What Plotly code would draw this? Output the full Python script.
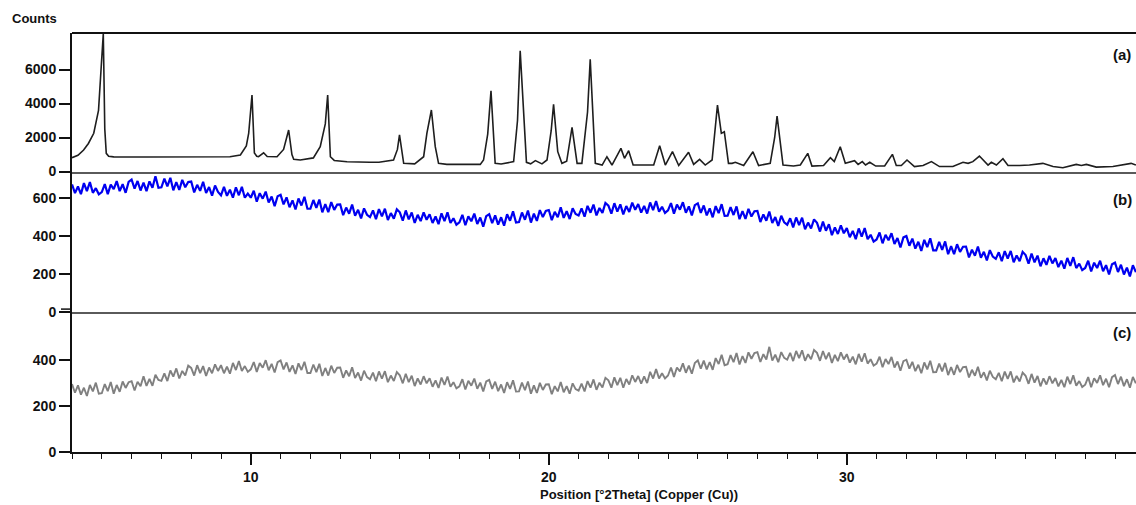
import numpy as np
import plotly.graph_objects as go
from plotly.subplots import make_subplots

# ---------------- data ----------------
# (a) crystalline pattern: (2theta, counts)
two_theta_a = [4.00, 4.20, 4.39, 4.55, 4.73, 4.89, 4.98, 5.05, 5.10, 5.15, 5.23, 5.40, 6.5, 7.5, 8.5, 9.3,
               9.65, 9.85, 9.93, 10.04, 10.12, 10.20, 10.26, 10.43, 10.55, 10.88, 11.10, 11.27, 11.38, 11.44,
               11.66, 12.1, 12.33, 12.50, 12.58, 12.67, 12.8, 13.23, 14.0, 14.18, 14.3, 14.79, 14.92, 14.99,
               15.13, 15.5, 15.8, 15.91, 16.06, 16.19, 16.3, 16.58, 17.7, 17.81, 17.95, 18.06, 18.2, 18.4,
               18.82, 18.95, 19.04, 19.25, 19.39, 19.55, 19.77, 19.94, 20.08, 20.16, 20.30, 20.44, 20.6,
               20.78, 20.95, 21.11, 21.30, 21.39, 21.56, 21.79, 21.95, 22.12, 22.42, 22.54, 22.68, 22.83,
               23.52, 23.72, 23.91, 24.15, 24.36, 24.69, 24.86, 25.06, 25.25, 25.48, 25.66, 25.79, 25.89,
               26.03, 26.15, 26.26, 26.54, 26.85, 27.04, 27.43, 27.58, 27.66, 27.86, 28.21, 28.44, 28.69,
               28.83, 29.22, 29.45, 29.58, 29.78, 29.95, 30.26, 30.38, 30.52, 30.63, 30.77, 30.97, 31.27,
               31.53, 31.66, 31.83, 32.02, 32.27, 32.56, 32.84, 33.11, 33.56, 33.90, 34.07, 34.23, 34.45,
               34.74, 34.85, 35.02, 35.24, 35.41, 35.80, 36.13, 36.58, 36.92, 37.25, 37.70, 37.87, 38.04,
               38.37, 38.93, 39.54, 39.70]
counts_a = [810, 950, 1260, 1650, 2250, 3600, 6150, 8100, 2500, 1070, 900, 860, 850, 860, 850, 870,
            970, 1500, 2260, 4500, 1090, 900, 870, 1100, 880, 870, 1300, 2440, 1000, 717,
            676, 800, 1460, 2800, 4500, 870, 650, 576, 540, 560, 540, 676, 1300, 2150,
            480, 450, 870, 2260, 3620, 1460, 480, 420, 420, 676, 2200, 4750, 480, 440,
            580, 3000, 7100, 540, 450, 640, 450, 676, 2400, 3950, 1165, 480, 600,
            2600, 480, 480, 3500, 6600, 480, 380, 870, 380, 1360, 775, 1225, 380,
            380, 1520, 380, 1165, 350, 1130, 420, 717, 380, 676, 3910, 2245, 2340,
            480, 480, 540, 350, 1165, 350, 480, 2000, 3260, 380, 320, 380, 1070,
            320, 350, 810, 580, 1460, 480, 640, 420, 580, 380, 540, 320, 320,
            1010, 350, 350, 676, 290, 350, 580, 290, 290, 540, 480, 580, 910,
            380, 540, 380, 750, 350, 350, 380, 480, 290, 225, 420, 350, 420,
            260, 290, 480, 380]

# (b) and (c) scans: step scan 4.0 .. 39.7 deg, 0.1 deg step
scan_start = 4.0
scan_step = 0.1
counts_b = [
    670, 624, 659, 619, 677, 635, 682, 626, 650, 618,
    630, 672, 619, 669, 645, 687, 635, 671, 626, 683,
    695, 648, 688, 638, 679, 635, 686, 652, 713, 652,
    655, 701, 660, 705, 639, 682, 641, 694, 655, 683,
    685, 628, 668, 636, 684, 625, 656, 611, 664, 630,
    612, 657, 610, 642, 600, 655, 613, 657, 600, 622,
    600, 637, 579, 624, 595, 632, 575, 606, 556, 608,
    615, 565, 602, 550, 586, 538, 596, 559, 605, 542,
    542, 588, 546, 590, 523, 566, 524, 577, 536, 564,
    565, 508, 548, 516, 564, 505, 536, 491, 544, 510,
    498, 533, 487, 540, 502, 542, 483, 519, 490, 539,
    523, 479, 533, 486, 522, 467, 510, 477, 523, 484,
    513, 467, 501, 461, 518, 477, 523, 467, 492, 458,
    470, 510, 455, 502, 476, 516, 462, 496, 448, 503,
    513, 466, 507, 458, 497, 453, 513, 479, 528, 469,
    472, 522, 484, 532, 469, 516, 478, 535, 498, 530,
    535, 482, 526, 497, 549, 494, 529, 488, 544, 514,
    506, 544, 500, 557, 521, 564, 507, 546, 520, 572,
    558, 516, 571, 527, 565, 512, 556, 525, 574, 536,
    567, 522, 557, 517, 575, 535, 582, 527, 552, 520,
    533, 572, 516, 564, 537, 576, 521, 554, 507, 561,
    570, 520, 559, 507, 544, 497, 556, 519, 566, 504,
    505, 551, 509, 554, 487, 530, 488, 541, 501, 529,
    530, 472, 512, 479, 527, 467, 498, 452, 505, 470,
    458, 492, 444, 496, 456, 495, 434, 469, 438, 486,
    468, 422, 474, 426, 460, 403, 444, 409, 454, 413,
    440, 392, 425, 382, 438, 395, 440, 382, 405, 369,
    380, 417, 360, 405, 376, 413, 357, 388, 338, 391,
    398, 347, 385, 332, 368, 320, 378, 340, 386, 323,
    323, 368, 326, 370, 303, 345, 303, 355, 315, 342,
    343, 286, 326, 295, 343, 284, 315, 270, 324, 290,
    278, 313, 266, 319, 280, 320, 260, 296, 266, 315,
    298, 253, 306, 260, 295, 239, 281, 247, 294, 254,
    282, 235, 269, 227, 283, 241, 287, 230, 253, 219,
    230, 268, 212, 258, 230, 268, 213, 245, 196, 250,
    258, 209, 247, 196, 232, 186, 245, 208]
counts_c = [
    296, 258, 290, 250, 280, 244, 292, 264, 302, 254,
    256, 296, 265, 305, 254, 292, 262, 307, 279, 304,
    308, 268, 306, 286, 330, 288, 318, 288, 336, 314,
    310, 342, 309, 355, 328, 364, 320, 353, 333, 376,
    366, 333, 378, 343, 374, 331, 368, 343, 382, 353,
    378, 343, 372, 341, 388, 357, 396, 353, 374, 349,
    360, 392, 349, 387, 367, 400, 356, 384, 346, 391,
    399, 360, 390, 349, 377, 340, 386, 357, 393, 344,
    344, 381, 348, 384, 331, 366, 333, 376, 344, 367,
    368, 323, 355, 330, 369, 322, 346, 311, 354, 326,
    317, 346, 308, 351, 319, 352, 304, 333, 309, 348,
    334, 299, 341, 304, 332, 287, 321, 294, 330, 299,
    321, 284, 312, 279, 324, 292, 329, 284, 304, 277,
    286, 317, 272, 310, 289, 320, 275, 302, 264, 307,
    314, 275, 306, 265, 294, 257, 304, 275, 312, 263,
    264, 302, 269, 307, 254, 290, 257, 301, 270, 294,
    295, 252, 287, 264, 305, 260, 287, 254, 299, 274,
    267, 298, 264, 309, 280, 316, 271, 302, 281, 323,
    312, 280, 325, 291, 323, 280, 318, 294, 334, 305,
    331, 298, 329, 300, 349, 320, 361, 320, 343, 320,
    333, 368, 327, 368, 351, 386, 345, 376, 341, 388,
    399, 363, 398, 360, 392, 358, 409, 383, 423, 378,
    382, 422, 391, 431, 381, 418, 388, 434, 406, 431,
    435, 392, 426, 403, 458, 398, 424, 391, 435, 410,
    402, 432, 396, 440, 409, 443, 397, 426, 404, 444,
    432, 397, 440, 404, 433, 388, 423, 396, 434, 403,
    426, 389, 415, 382, 427, 393, 430, 385, 404, 376,
    385, 415, 369, 405, 383, 414, 368, 394, 354, 396,
    402, 363, 393, 352, 380, 343, 390, 360, 397, 347,
    348, 385, 351, 388, 335, 370, 336, 379, 348, 370,
    371, 325, 358, 332, 371, 323, 347, 312, 354, 327,
    317, 345, 308, 350, 318, 351, 303, 331, 307, 346,
    332, 297, 340, 302, 331, 286, 321, 294, 330, 299,
    322, 286, 314, 282, 328, 296, 334, 289, 309, 283,
    293, 326, 282, 321, 301, 334, 291, 319, 282, 326,
    335, 296, 328, 287, 317, 280, 327, 299]

x_ticks = [10, 20, 30]
x_tick_labels = ["10", "20", "30"]
y_ticks_a = [0, 2000, 4000, 6000]
y_ticks_b = [0, 200, 400, 600]
y_ticks_c = [0, 200, 400]
panel_labels = ["(a)", "(b)", "(c)"]

two_theta_scan = np.round(scan_start + scan_step * np.arange(len(counts_b)), 2)

# ---------------- figure ----------------
W, H = 1136, 505
ML, MR, MT, MB = 72, 0, 33, 53
PW, PH = W - ML - MR, H - MT - MB

def py(pix):  # pixel row -> paper y
    return (H - MB - pix) / PH

def px(pix):  # pixel column -> paper x
    return (pix - ML) / PW

fig = make_subplots(rows=3, cols=1, shared_xaxes=True, vertical_spacing=0)

fig.add_trace(go.Scatter(x=two_theta_a, y=counts_a, mode="lines",
                         line=dict(color="#1e1e1e", width=1.6), showlegend=False), row=1, col=1)
fig.add_trace(go.Scatter(x=two_theta_scan, y=counts_b, mode="lines",
                         line=dict(color="#0000f0", width=2.2), showlegend=False), row=2, col=1)
fig.add_trace(go.Scatter(x=two_theta_scan, y=counts_c, mode="lines",
                         line=dict(color="#808080", width=1.9), showlegend=False), row=3, col=1)

xr = [4.0, 4.0 + PW / 29.8]
tickfont = dict(family="Liberation Sans, Arial, sans-serif", size=14, color="#111", weight="bold")

dom_c = [0, py(311.7)]
dom_b = [py(311.7), py(171.5)]
dom_a = [py(171.5), 1]

for i in [1, 2]:
    fig.update_xaxes(row=i, col=1, range=xr, showline=True, linecolor="#5a5a5a", linewidth=2,
                     ticks="", showticklabels=False, showgrid=False, zeroline=False)
fig.update_xaxes(row=3, col=1, range=xr, showline=True, linecolor="#111", linewidth=2,
                 ticks="outside", ticklen=11, tickwidth=1.5, tickcolor="#111",
                 tickmode="array", tickvals=x_ticks, ticktext=x_tick_labels,
                 tickfont=tickfont, showgrid=False, zeroline=False,
                 minor=dict(ticks="outside", ticklen=5, tickwidth=1.3, tickcolor="#111",
                            dtick=1, tick0=0, showgrid=False))

common_y = dict(showline=True, linecolor="#111", linewidth=2, ticks="outside", ticklen=11,
                tickwidth=1.5, tickcolor="#111", tickfont=tickfont, showgrid=False,
                zeroline=False, tickmode="array")
fig.update_yaxes(row=1, col=1, domain=dom_a, range=[0, 8150], tickvals=y_ticks_a,
                 ticktext=[str(v) for v in y_ticks_a], **common_y)
fig.update_yaxes(row=2, col=1, domain=dom_b, range=[0, 738], tickvals=y_ticks_b,
                 ticktext=[str(v) for v in y_ticks_b], **common_y)
fig.update_yaxes(row=3, col=1, domain=dom_c, range=[0, 611], tickvals=y_ticks_c,
                 ticktext=[str(v) for v in y_ticks_c], **common_y)

shapes = [
    dict(type="line", xref="paper", yref="paper", x0=0, x1=1, y0=1, y1=1,
         line=dict(color="#111", width=2)),
    dict(type="line", xref="paper", yref="paper", x0=px(ML - 11), x1=0,
         y0=py(311.7 - 2.6), y1=py(311.7 - 2.6), line=dict(color="#111", width=1.5)),
]

lab_font = dict(family="Liberation Sans, Arial, sans-serif", size=15, color="#111", weight="bold")
annotations = [
    dict(text="Counts", xref="paper", yref="paper", x=px(10), y=py(19), xanchor="left",
         yanchor="middle", showarrow=False,
         font=dict(family="Liberation Sans, Arial, sans-serif", size=13, color="#111", weight="bold")),
    dict(text="Position [°2Theta] (Copper (Cu))", xref="paper", yref="paper", x=px(639), y=py(494),
         xanchor="center", yanchor="middle", showarrow=False,
         font=dict(family="Liberation Sans, Arial, sans-serif", size=13, color="#111", weight="bold")),
]
for lab, ypix in zip(panel_labels, [55, 200, 332]):
    annotations.append(dict(text=lab, xref="paper", yref="paper", x=px(1111), y=py(ypix),
                            xanchor="left", yanchor="middle", showarrow=False, font=lab_font))

fig.update_layout(width=W, height=H, margin=dict(l=ML, r=MR, t=MT, b=MB),
                  paper_bgcolor="white", plot_bgcolor="white", shapes=shapes,
                  annotations=annotations, showlegend=False)

fig.write_html("out.html", config={"displayModeBar": False},
               post_script="document.body.style.margin='0';document.body.style.overflow='hidden';")
